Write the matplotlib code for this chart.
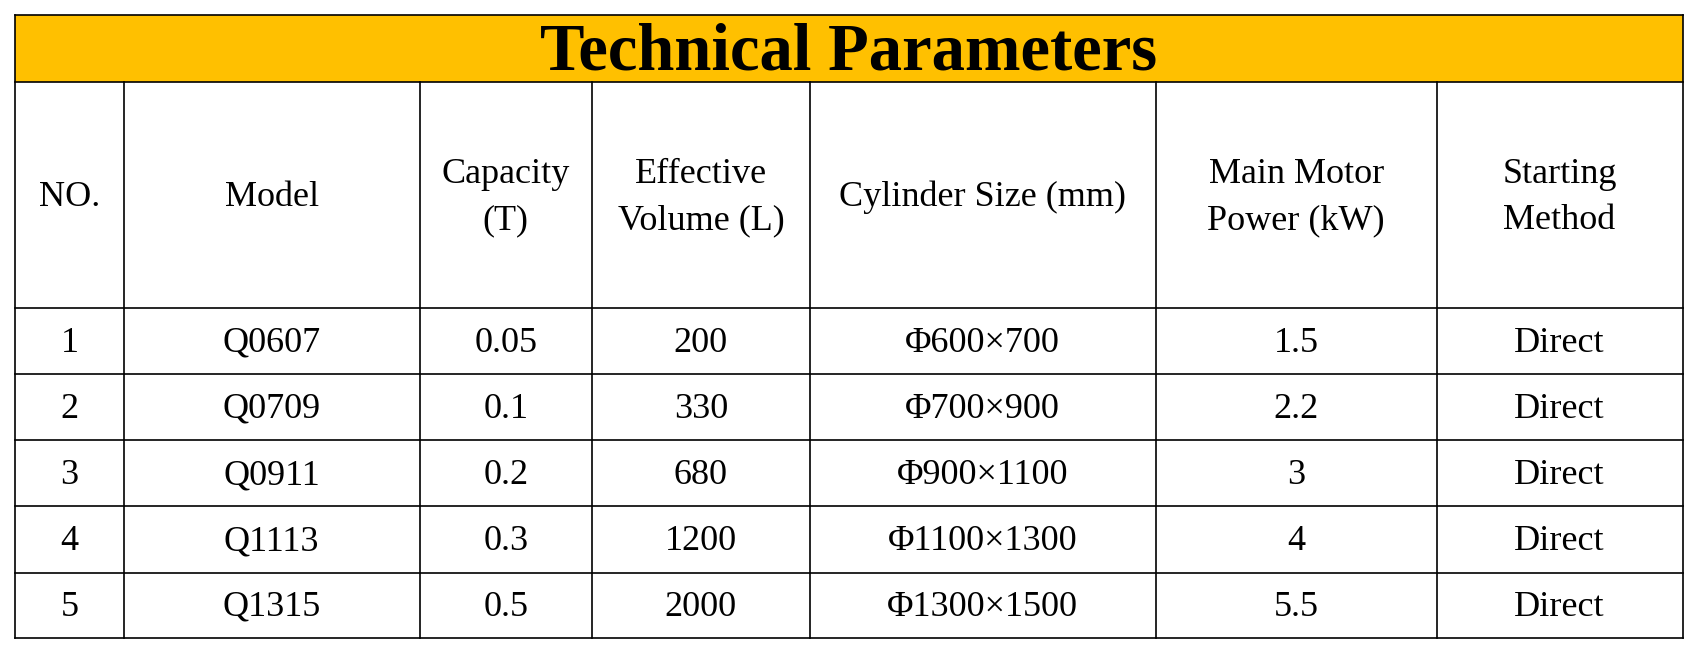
import matplotlib.pyplot as plt

title = "Technical Parameters"
headers = ["NO.", "Model", "Capacity\n(T)", "Effective\nVolume (L)", "Cylinder Size (mm)",
           "Main Motor\nPower (kW)", "Starting\nMethod"]
numbers = ["1", "2", "3", "4", "5"]
models = ["Q0607", "Q0709", "Q0911", "Q1113", "Q1315"]
capacity = ["0.05", "0.1", "0.2", "0.3", "0.5"]
volume = ["200", "330", "680", "1200", "2000"]
cylinder = ["Φ600×700", "Φ700×900", "Φ900×1100", "Φ1100×1300", "Φ1300×1500"]
power = ["1.5", "2.2", "3", "4", "5.5"]
start = ["Direct"] * 5

# layout in reference pixel units (image drawn at 1568 x 603)
col_x = [14, 114, 387, 546, 747, 1066, 1325, 1552]
row_y = [14, 76, 284, 345, 406, 467, 528, 588]

fig = plt.figure(figsize=(17, 6.54), dpi=100)
ax = fig.add_axes([0, 0, 1, 1])
ax.set_xlim(0, 1568)
ax.set_ylim(603, 0)
ax.axis("off")
font = "Liberation Serif"

ax.add_patch(plt.Rectangle((col_x[0], row_y[0]), col_x[-1] - col_x[0], row_y[1] - row_y[0],
                           facecolor="#FFC000", edgecolor="none"))
ax.text((col_x[0] + col_x[-1]) / 2, (row_y[0] + row_y[1]) / 2 + 4, title, ha="center", va="center",
        fontsize=48, fontweight="bold", family=font)

lw = 1.2
for y in row_y:
    ax.plot([col_x[0], col_x[-1]], [y, y], color="black", lw=lw)
for x in col_x:
    top = row_y[0] if x in (col_x[0], col_x[-1]) else row_y[1]
    ax.plot([x, x], [top, row_y[-1]], color="black", lw=lw)

def centers(i):
    return (col_x[i] + col_x[i + 1]) / 2

for i, h in enumerate(headers):
    ax.text(centers(i), (row_y[1] + row_y[2]) / 2 + 2, h, ha="center", va="center",
            fontsize=26, family=font, linespacing=1.55)

columns = [numbers, models, capacity, volume, cylinder, power, start]
for r in range(5):
    yc = (row_y[r + 2] + row_y[r + 3]) / 2 + 2
    for i, col in enumerate(columns):
        ax.text(centers(i), yc, col[r], ha="center", va="center", fontsize=26, family=font)

fig.savefig("out.png", dpi=100)
